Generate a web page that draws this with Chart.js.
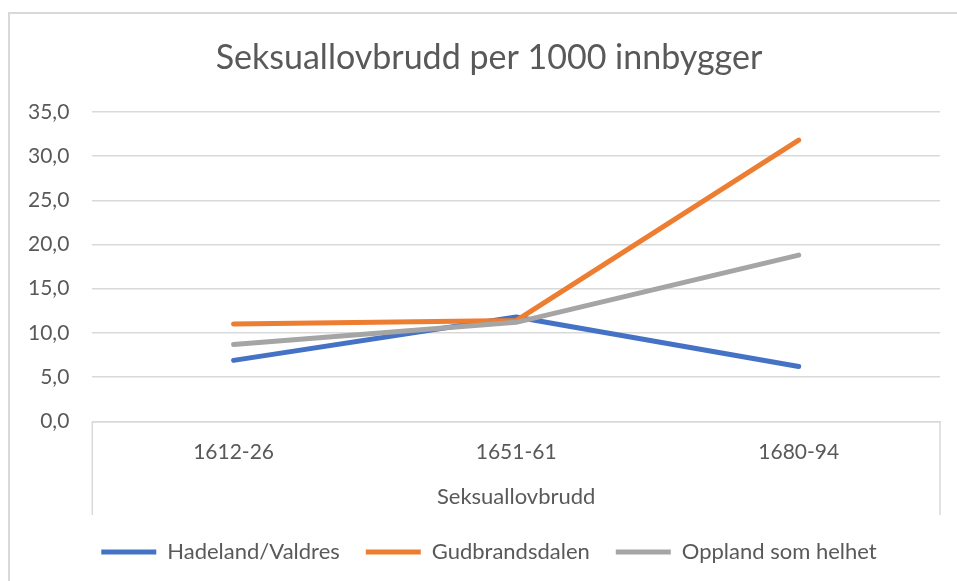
<!DOCTYPE html>
<html>
<head>
<meta charset="utf-8">
<script src="https://cdn.jsdelivr.net/npm/chart.js@4/dist/chart.umd.min.js"></script>
<style>
  html, body { margin: 0; padding: 0; background: #fff; overflow: hidden; width: 957px; height: 581px; }
  #frame {
    position: absolute; left: 8px; top: 12px; width: 1000px; height: 1000px;
    border-left: 2px solid #d9d9d9; border-top: 2px solid #d9d9d9;
  }
  /* the Excel chart object is cut off on the right, so the canvas runs past the window */
  #wrap { position: absolute; left: 0; top: 0; width: 990px; height: 581px; }
</style>
</head>
<body>
<div id="frame"></div>
<div id="wrap"><canvas id="chart"></canvas></div>
<script>
// data
const periods = ['1612-26', '1651-61', '1680-94'];
const hadelandValdres = [6.9, 11.8, 6.2];
const gudbrandsdalen = [11.0, 11.4, 31.8];
const opplandHelhet = [8.7, 11.2, 18.8];
const seriesNames = ['Hadeland/Valdres', 'Gudbrandsdalen', 'Oppland som helhet'];
const yTicks = [0, 5, 10, 15, 20, 25, 30, 35];

const FONT = 'Lato, "Open Sans", sans-serif';
const TEXT = '#595959';
const GRID = '#d9d9d9';

// side lines of the category box under the plot (Excel multi-level axis look)
const categoryBox = {
    id: 'categoryBox',
    afterDraw(chart) {
        const x = chart.scales.x;
        const ctx = chart.ctx;
        ctx.save();
        ctx.strokeStyle = GRID;
        ctx.lineWidth = 1.5;
        ctx.beginPath();
        ctx.moveTo(x.left, chart.chartArea.bottom);
        ctx.lineTo(x.left, x.bottom);
        ctx.moveTo(x.right, chart.chartArea.bottom);
        ctx.lineTo(x.right, x.bottom);
        ctx.stroke();
        ctx.restore();
    }
};

function line(label, data, color, order) {
    return {
        label: label,
        data: data,
        borderColor: color,
        backgroundColor: color,
        borderWidth: 5,
        borderCapStyle: 'round',
        borderJoinStyle: 'round',
        pointRadius: 0,
        pointHoverRadius: 0,
        pointStyle: 'line',
        tension: 0,
        order: order
    };
}

const ctx = document.getElementById('chart').getContext('2d');
new Chart(ctx, {
    type: 'line',
    data: {
        labels: periods,
        datasets: [
            line(seriesNames[0], hadelandValdres, '#4472C4', 3),
            line(seriesNames[1], gudbrandsdalen, '#ED7D31', 2),
            line(seriesNames[2], opplandHelhet, '#A5A5A5', 1)
        ]
    },
    options: {
        responsive: true,
        maintainAspectRatio: false,
        animation: false,
        layout: { padding: { left: 5, right: 17, top: 0, bottom: 8 } },
        plugins: {
            title: {
                display: true,
                text: 'Seksuallovbrudd per 1000 innbygger',
                color: TEXT,
                font: { family: FONT, size: 34, weight: 'normal' },
                padding: { top: 38, bottom: 33 }
            },
            legend: {
                position: 'bottom',
                labels: {
                    color: TEXT,
                    font: { family: FONT, size: 22 },
                    usePointStyle: true,
                    pointStyleWidth: 55,
                    padding: 26,
                    sort: (a, b) => a.datasetIndex - b.datasetIndex
                }
            },
            tooltip: { enabled: false }
        },
        scales: {
            x: {
                offset: true,
                grid: { display: false, drawTicks: false },
                border: { display: true, color: GRID, width: 1.5 },
                ticks: {
                    color: TEXT,
                    font: { family: FONT, size: 21 },
                    padding: 18,
                    maxRotation: 0
                },
                title: {
                    display: true,
                    text: 'Seksuallovbrudd',
                    color: TEXT,
                    font: { family: FONT, size: 22 },
                    padding: { top: 1, bottom: 5 }
                }
            },
            y: {
                min: 0,
                max: 35,
                afterBuildTicks: (axis) => { axis.ticks = yTicks.map(v => ({ value: v })); },
                grid: { color: GRID, lineWidth: 1.5, drawTicks: false },
                border: { display: false },
                ticks: {
                    color: TEXT,
                    font: { family: FONT, size: 21 },
                    padding: 23,
                    callback: (v) => Number(v).toFixed(1).replace('.', ',')
                }
            },
            // empty spacer on the right: keeps the plot inside the window
            // while the title and legend stay centred on the whole chart object
            spacer: {
                type: 'linear',
                position: 'right',
                grid: { display: false },
                border: { display: false },
                ticks: { display: false },
                afterFit: (s) => { s.width = 33; }
            }
        }
    },
    plugins: [categoryBox]
});
</script>
</body>
</html>
